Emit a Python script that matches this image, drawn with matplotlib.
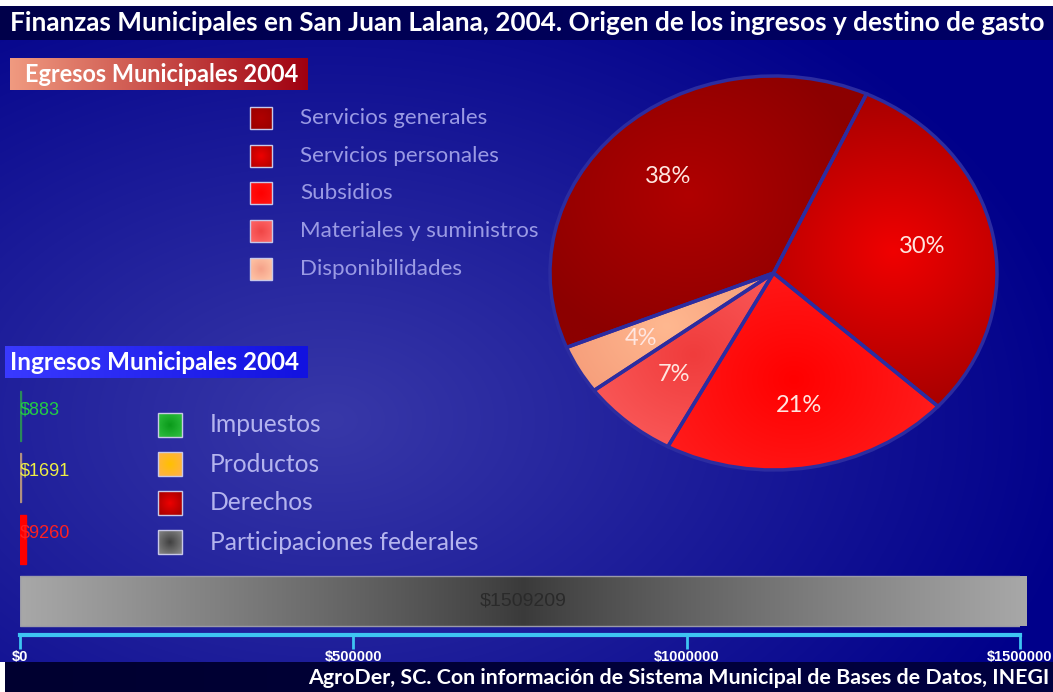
import numpy as np
import matplotlib
matplotlib.use("Agg")
import matplotlib.pyplot as plt
from matplotlib.patches import Rectangle
from matplotlib.colors import to_rgb

# ---------------- data ----------------
title = "Finanzas Municipales en San Juan Lalana, 2004. Origen de los ingresos y destino de gasto"
footer = "AgroDer, SC. Con información de Sistema Municipal de Bases de Datos, INEGI"

egresos_title = "Egresos Municipales 2004"
egresos_labels = ["Servicios generales", "Servicios personales", "Subsidios",
                  "Materiales y suministros", "Disponibilidades"]
egresos_pct = [38, 30, 21, 7, 4]

ingresos_title = "Ingresos Municipales 2004"
ingresos_labels = ["Impuestos", "Productos", "Derechos", "Participaciones federales"]
ingresos_values = [883, 1691, 9260, 1509209]
ingresos_text = ["$883", "$1691", "$9260", "$1509209"]

axis_ticks = [0, 500000, 1000000, 1500000]
axis_labels = ["$0", "$500000", "$1000000", "$1500000"]

# ---------------- styles ----------------
W, H = 1053, 692
fig = plt.figure(figsize=(W / 100, H / 100), dpi=100)
fig.patch.set_facecolor("white")

bg = fig.add_axes([0, 0, 1, 1])
bg.set_xlim(0, W)
bg.set_ylim(H, 0)
bg.axis("off")


def mix(c1, c2, t):
    c1 = np.array(to_rgb(c1))
    c2 = np.array(to_rgb(c2))
    t = np.clip(t, 0, 1)[..., None]
    return c1 * (1 - t) + c2 * t


# main background gradient
yy, xx = np.mgrid[0:H, 0:W]
d = np.sqrt(((xx - 330) / 900.0) ** 2 + ((yy - 420) / 600.0) ** 2)
bgimg = mix("#3838a8", "#00008a", d / 0.85)
bg.imshow(bgimg, extent=(0, W, H, 0), zorder=0, aspect="auto", interpolation="bilinear")

# top white strip + title bar
bg.add_patch(Rectangle((0, 0), W, 6, facecolor="white", edgecolor="none", zorder=1))
tb = np.linspace(0, 1, 200)[None, :]
bg.imshow(mix("#00004a", "#000066", tb), extent=(0, W, 40, 6), zorder=1, aspect="auto")

# footer
bg.add_patch(Rectangle((0, 662), 5, 30, facecolor="white", edgecolor="none", zorder=1))
bg.imshow(mix("#000030", "#000040", tb), extent=(5, W, 692, 662), zorder=1, aspect="auto")

renderer = fig.canvas.get_renderer()


def fit(t, width_px):
    bb = t.get_window_extent(renderer)
    t.set_fontsize(t.get_fontsize() * width_px / bb.width)
    return t


t = bg.text(10, 23, title, color="white", fontweight="bold", family="Lato",
            fontsize=16, va="center", ha="left", zorder=5)
fit(t, 1035)

t = bg.text(1049, 678, footer, color="white", fontweight="bold", family="Lato",
            fontsize=12, va="center", ha="right", zorder=5)
fit(t, 736)

# header boxes
hx = np.linspace(0, 1, 200)[None, :]
bg.imshow(mix("#f09a80", "#a00010", hx), extent=(10, 308, 90, 58), zorder=2, aspect="auto")
t = bg.text(25, 74, egresos_title, color="white", fontweight="bold", family="Lato",
            fontsize=14, va="center", ha="left", zorder=5)
fit(t, 275)

bg.imshow(mix("#3a3aff", "#1212e0", hx), extent=(5, 308, 378, 346), zorder=2, aspect="auto")
t = bg.text(10, 362, ingresos_title, color="white", fontweight="bold", family="Lato",
            fontsize=14, va="center", ha="left", zorder=5)
fit(t, 290)

# legend squares helper
sq = np.mgrid[-1:1:40j, -1:1:40j]
sqr = np.sqrt(sq[0] ** 2 + sq[1] ** 2) / 1.41


def grad_square(x0, y0, s, c_in, c_out):
    bg.imshow(mix(c_in, c_out, sqr), extent=(x0, x0 + s, y0 + s, y0), zorder=3,
              aspect="auto", interpolation="bilinear")
    bg.add_patch(Rectangle((x0, y0), s, s, facecolor="none", edgecolor="#c8c8e8",
                           lw=1.0, zorder=4))


eg_sq_in = ["#b00000", "#ee0000", "#ff0000", "#f04545", "#f5a088"]
eg_sq_out = ["#990000", "#b00000", "#ff1515", "#ff6a6a", "#ffc8a8"]
eg_rows = [118, 156, 193, 231, 269]
eg_texts = []
for lab, yc, ci, co in zip(egresos_labels, eg_rows, eg_sq_in, eg_sq_out):
    grad_square(250, yc - 11, 22, ci, co)
    eg_texts.append(bg.text(300, yc, lab, color="#9a9ae4", family="Lato",
                            fontsize=13, va="center", ha="left", zorder=5))
fit(eg_texts[3], 238)
for tt in eg_texts:
    tt.set_fontsize(eg_texts[3].get_fontsize())

in_sq_in = ["#0a9a1a", "#ffc000", "#ee0000", "#404040"]
in_sq_out = ["#30c040", "#ffb050", "#a00000", "#8a8a8a"]
in_rows = [425, 464, 503, 542]
in_texts = []
for lab, yc, ci, co in zip(ingresos_labels, in_rows, in_sq_in, in_sq_out):
    grad_square(158, yc - 12, 24, ci, co)
    in_texts.append(bg.text(210, yc, lab, color="#b4b4ee", family="Lato",
                            fontsize=14, va="center", ha="left", zorder=5))
fit(in_texts[3], 270)
for tt in in_texts:
    tt.set_fontsize(in_texts[3].get_fontsize())

# ---------------- pie ----------------
pl, pt, pw, ph = 550, 76, 447, 394
pax = fig.add_axes([pl / W, (H - pt - ph) / H, pw / W, ph / H])
pie_edge = "#2c2ca0"
wedges, texts, autotexts = pax.pie(
    egresos_pct, startangle=202.2, counterclock=False,
    autopct=lambda p: f"{p:.0f}%", pctdistance=0.68,
    wedgeprops=dict(edgecolor=pie_edge, linewidth=2.5, facecolor="none"),
    textprops=dict(color="#ffe6e0", fontsize=17, family="Lato"))
pax.set_aspect("auto")
pax.set_xlim(-1.0, 1.0)
pax.set_ylim(-1.0, 1.0)
pax.axis("off")
pax.patch.set_alpha(0)

w_in = ["#b00000", "#f00000", "#ff0000", "#f03c3c", "#ffb890"]
w_out = ["#8c0000", "#a80000", "#ff2222", "#ff6868", "#f08c6c"]
g = np.mgrid[1:-1:400j, -1:1:400j]
gy, gx = g[0], g[1]
for wdg, ci, co in zip(wedges, w_in, w_out):
    mid = np.deg2rad((wdg.theta1 + wdg.theta2) / 2)
    cx, cy = 0.55 * np.cos(mid), 0.55 * np.sin(mid)
    dist = np.sqrt((gx - cx) ** 2 + (gy - cy) ** 2) / 0.8
    im = pax.imshow(mix(ci, co, dist), extent=(-1, 1, -1, 1), zorder=1,
                    aspect="auto", interpolation="bilinear")
    im.set_clip_path(wdg)
    wdg.set_zorder(3)
for a in autotexts:
    a.set_zorder(5)

# ---------------- ingresos bars ----------------
bl, btop, bw, bh = 20, 385, 1000, 247
bax = fig.add_axes([bl / W, (H - btop - bh) / H, bw / W, bh / H])
bax.patch.set_alpha(0)
bar_cols = ["#2a8a5a", "#b09080", "#ff0000", "#808080"]
ypos = np.arange(len(ingresos_values))
bars = bax.barh(ypos, ingresos_values, height=0.8, color=bar_cols,
                edgecolor=bar_cols, linewidth=1.0, zorder=2)
bax.set_xlim(0, 1500000)
bax.set_ylim(len(ingresos_values) - 0.5, -0.5)
bars[3].set_facecolor("none")
bars[3].set_edgecolor("#9a9aa8")
hgrad = np.abs(np.linspace(-1, 1, 400))[None, :]
gim = bax.imshow(mix("#3a3a3a", "#a8a8a8", hgrad ** 0.9),
                 extent=(0, ingresos_values[3], 3.4, 2.6), zorder=1,
                 aspect="auto", interpolation="bilinear")
gim.set_clip_path(bars[3])

txt_cols = ["#22cc44", "#eeee44", "#ff2020"]
for i in range(3):
    bax.text(0, ypos[i] - 0.1, ingresos_text[i], color=txt_cols[i],
             family="Liberation Sans", fontsize=13, va="center", ha="left", zorder=4)
bax.text(ingresos_values[3] / 2, ypos[3], ingresos_text[3], color="#2a2a2a",
         family="Liberation Sans", fontsize=14, va="center", ha="center", zorder=4)

for s in ["top", "left", "right"]:
    bax.spines[s].set_visible(False)
bax.spines["bottom"].set_color("#3ec4f2")
bax.spines["bottom"].set_linewidth(3)
bax.spines["bottom"].set_position(("outward", 2))
bax.set_yticks([])
bax.set_xticks(axis_ticks, axis_labels)
bax.tick_params(axis="x", direction="out", length=10, width=2, color="#3ec4f2",
                labelcolor="white", labelsize=10.5, pad=1)
for lab in bax.get_xticklabels():
    lab.set_fontweight("bold")
    lab.set_family("Liberation Sans")

fig.savefig("out.png", dpi=100)
